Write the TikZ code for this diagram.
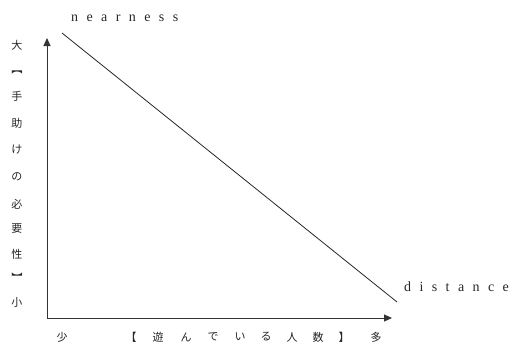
\documentclass[tikz,border=0pt]{standalone}
\usepackage{fontspec}
\setmainfont{Liberation Serif}
\newfontfamily\cjk{Noto Sans CJK JP}
\newfontfamily\spaced[LetterSpace=60]{Liberation Serif}
\usetikzlibrary{arrows.meta}
\begin{document}
\begin{tikzpicture}[x=1pt,y=-1pt,
  axis/.style={line width=1pt,draw=black!80,-{Triangle[length=8pt,width=7pt]}},
  jp/.style={font=\cjk\fontsize{11}{11}\selectfont,inner sep=0pt,text=black!85},
  en/.style={font=\spaced\fontsize{14}{14}\selectfont,inner sep=0pt,anchor=west,text=black!85}]
\useasboundingbox (0,0) rectangle (514,343);
\coordinate (o) at (47,318);
\coordinate (ytop) at (47,38);
\coordinate (xend) at (392,318);
\draw[axis] (o) -- (ytop);
\draw[axis] (o) -- (xend);
\coordinate (near) at (62,33);
\coordinate (far) at (397,302);
\draw[line width=0.8pt,black!85] (near) -- (far);
\node[en] (nearness) at (71,18) {nearness};
\node[en] (distance) at (404,287) {distance};
% left labels
\node[jp] (l1) at (17,45) {大};
\node[jp,rotate=-90] (l2) at (17,69) {【};
\node[jp] (l3) at (17,96) {手};
\node[jp] (l4) at (17,123) {助};
\node[jp] (l5) at (17,150) {け};
\node[jp] (l6) at (17,177) {の};
\node[jp] (l7) at (17,204) {必};
\node[jp] (l8) at (17,229) {要};
\node[jp] (l9) at (17,254) {性};
\node[jp,rotate=-90] (l10) at (17,278) {】};
\node[jp] (l11) at (17,302) {小};
% bottom labels
\node[jp] (b1) at (62,337) {少};
\node[jp] (b2) at (131,337) {【};
\node[jp] (b3) at (158,337) {遊};
\node[jp] (b4) at (186,337) {ん};
\node[jp] (b5) at (213,337) {で};
\node[jp] (b6) at (240,337) {い};
\node[jp] (b7) at (266,337) {る};
\node[jp] (b8) at (292,337) {人};
\node[jp] (b9) at (318,337) {数};
\node[jp] (b10) at (344,337) {】};
\node[jp] (b11) at (376,337) {多};
\end{tikzpicture}
\end{document}
